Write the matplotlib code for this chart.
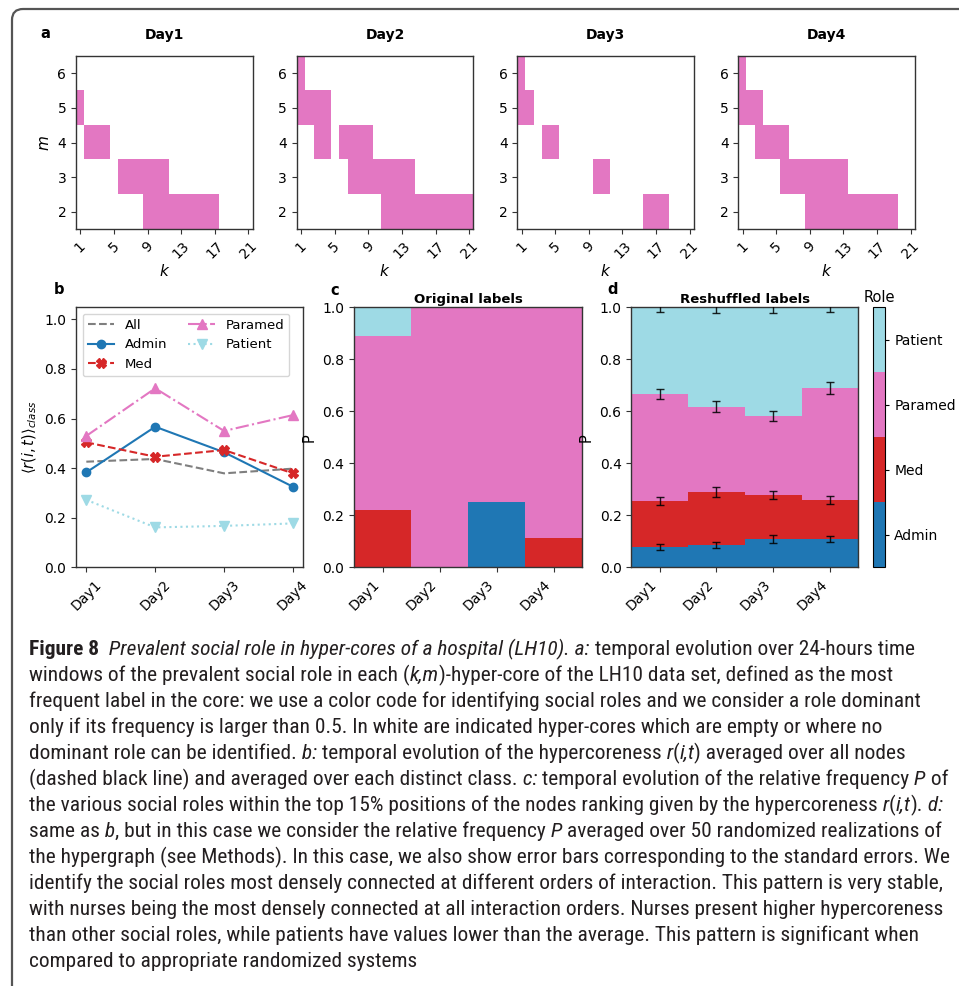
import matplotlib
matplotlib.use('Agg')
import matplotlib.pyplot as plt
import numpy as np
from matplotlib import font_manager as fm
from matplotlib.colors import ListedColormap, BoundaryNorm
from matplotlib.cm import ScalarMappable
from matplotlib.ticker import NullLocator
from matplotlib.path import Path
from matplotlib.patches import PathPatch

W, H = 959, 986

# roles and colours
roles = ['Admin', 'Med', 'Paramed', 'Patient']
role_colors = ['#1f77b4', '#d62728', '#e377c2', '#9edae5']
role_codes = {'A': 0, 'M': 1, 'P': 2, 'T': 3}
days = ['Day1', 'Day2', 'Day3', 'Day4']

# panel a: dominant role in each (k, m) hyper-core
# rows are m = 6, 5, 4, 3, 2 ; columns k = 1..21 ; '.' = no dominant role, 'P' = Paramed
m_ticks = [2, 3, 4, 5, 6]
k_ticks = [1, 5, 9, 13, 17, 21]
core_day1 = [".....................",
             "P....................",
             ".PPP.................",
             ".....PPPPPP..........",
             "........PPPPPPPPP...."]
core_day2 = ["P....................",
             "PPPP.................",
             "..PP.PPPP............",
             "......PPPPPPPP.......",
             "..........PPPPPPPPPPP"]
core_day3 = ["P....................",
             "PP...................",
             "...PP................",
             ".........PP..........",
             "...............PPP..."]
core_day4 = ["P....................",
             "PPP..................",
             "..PPPP...............",
             ".....PPPPPPPP........",
             "........PPPPPPPPPPP.."]

# panel b: mean hypercoreness per class
r_all = [0.426, 0.437, 0.379, 0.398]
r_admin = [0.383, 0.567, 0.464, 0.325]
r_med = [0.504, 0.446, 0.473, 0.379]
r_paramed = [0.530, 0.722, 0.550, 0.614]
r_patient = [0.272, 0.161, 0.167, 0.177]

# panel c: role frequency in top 15%, original labels
orig_admin = [0.0, 0.0, 0.25, 0.0]
orig_med = [0.222, 0.0, 0.0, 0.111]
orig_paramed = [0.667, 1.0, 0.75, 0.889]
orig_patient = [0.111, 0.0, 0.0, 0.0]

# panel d: reshuffled labels, mean and standard error
shuf_admin = [0.079, 0.086, 0.109, 0.109]
shuf_med = [0.176, 0.204, 0.169, 0.150]
shuf_paramed = [0.412, 0.327, 0.304, 0.431]
shuf_patient = [0.333, 0.383, 0.418, 0.310]
err_admin = [0.011, 0.010, 0.014, 0.012]
err_med = [0.016, 0.019, 0.016, 0.015]
err_paramed = [0.018, 0.021, 0.018, 0.022]
err_patient = [0.019, 0.021, 0.023, 0.019]

# caption, '#' toggles bold and '|' toggles italic
caption_lines = [
    "#Figure 8#  |Prevalent social role in hyper-cores of a hospital (LH10). a:| temporal evolution over 24-hours time",
    "windows of the prevalent social role in each (|k,m|)-hyper-core of the LH10 data set, defined as the most",
    "frequent label in the core: we use a color code for identifying social roles and we consider a role dominant",
    "only if its frequency is larger than 0.5. In white are indicated hyper-cores which are empty or where no",
    "dominant role can be identified. |b:| temporal evolution of the hypercoreness |r|(|i,t|) averaged over all nodes",
    "(dashed black line) and averaged over each distinct class. |c:| temporal evolution of the relative frequency |P| of",
    "the various social roles within the top 15% positions of the nodes ranking given by the hypercoreness |r|(|i,t|). |d:|",
    "same as |b|, but in this case we consider the relative frequency |P| averaged over 50 randomized realizations of",
    "the hypergraph (see Methods). In this case, we also show error bars corresponding to the standard errors. We",
    "identify the social roles most densely connected at different orders of interaction. This pattern is very stable,",
    "with nurses being the most densely connected at all interaction orders. Nurses present higher hypercoreness",
    "than other social roles, while patients have values lower than the average. This pattern is significant when",
    "compared to appropriate randomized systems",
]

TICK_FS = 10
spine_col = '#333333'

fig = plt.figure(figsize=(W / 100, H / 100), dpi=100)
fig.patch.set_facecolor('white')


def px_axes(x0, y0, x1, y1):
    return fig.add_axes([x0 / W, 1 - y1 / H, (x1 - x0) / W, (y1 - y0) / H])


def style_spines(ax):
    for s in ax.spines.values():
        s.set_color(spine_col)
        s.set_linewidth(1.0)
    ax.tick_params(labelsize=TICK_FS, length=3.5, color=spine_col)


cmap = ListedColormap(role_colors)

# ---- panel a ----
heat_lefts = [76, 296.7, 517.3, 738.3]
for i, (day, rows) in enumerate(zip(days, [core_day1, core_day2, core_day3, core_day4])):
    ax = px_axes(heat_lefts[i], 56, heat_lefts[i] + 176.7, 229.3)
    grid = np.array([[role_codes.get(c, np.nan) for c in row.ljust(21, '.')[:21]] for row in rows], float)
    ax.imshow(np.ma.masked_invalid(grid), cmap=cmap, vmin=-0.5, vmax=3.5,
              extent=(0.5, 21.5, 1.5, 6.5), aspect='auto', interpolation='nearest')
    ax.set_xticks(k_ticks)
    ax.set_yticks(m_ticks)
    ax.tick_params(axis='x', labelrotation=45)
    style_spines(ax)
    ax.set_title(day, fontweight='bold', fontsize=10, pad=12)
    ax.set_xlabel('$k$', fontsize=11, labelpad=1)
    if i == 0:
        ax.set_ylabel('$m$', fontsize=11)

# ---- panel b ----
axb = px_axes(76, 307, 303.3, 567.3)
axb.plot(days, r_all, '--', color='#7f7f7f', lw=1.5, label='All')
axb.plot(days, r_admin, '-o', color=role_colors[0], lw=1.5, ms=6, label='Admin')
axb.plot(days, r_med, '--X', color=role_colors[1], lw=1.5, ms=7, label='Med')
axb.plot(days, r_paramed, '-.^', color=role_colors[2], lw=1.5, ms=7, label='Paramed')
axb.plot(days, r_patient, ':v', color=role_colors[3], lw=1.5, ms=7, label='Patient')
axb.set_ylim(0, 1.05)
axb.set_yticks(np.arange(0, 1.01, 0.2))
axb.set_ylabel(r'$\langle r(i,t)\rangle_{class}$', fontsize=10.5)
axb.tick_params(axis='x', labelrotation=45)
style_spines(axb)
axb.legend(ncol=2, loc='upper left', fontsize=9.5, columnspacing=1.6)

# ---- panel c ----
x = np.arange(len(days))
axc = px_axes(354, 307.3, 582.3, 567.3)
bottom = np.zeros(len(days))
for vals, col in zip([orig_admin, orig_med, orig_paramed, orig_patient], role_colors):
    axc.bar(x, vals, bottom=bottom, width=1.0, color=col, linewidth=0)
    bottom += np.array(vals)
axc.set_xlim(-0.5, 3.5)
axc.set_ylim(0, 1)
axc.set_xticks(x)
axc.set_xticklabels(days, rotation=45, ha='right')
axc.set_ylabel('P', fontsize=10.5)
axc.set_title('Original labels', fontweight='bold', fontsize=9.5, pad=3)
style_spines(axc)

# ---- panel d ----
axd = px_axes(631.3, 307.3, 858.3, 567.3)
bottom = np.zeros(len(days))
for vals, errs, col in zip([shuf_admin, shuf_med, shuf_paramed, shuf_patient],
                           [err_admin, err_med, err_paramed, err_patient], role_colors):
    axd.bar(x, vals, bottom=bottom, width=1.0, color=col, linewidth=0)
    bottom += np.array(vals)
    axd.errorbar(x, bottom, yerr=errs, fmt='none', ecolor='black', elinewidth=1.0,
                 capsize=3, capthick=1.0, alpha=0.85, zorder=3)
axd.set_xlim(-0.5, 3.5)
axd.set_ylim(0, 1)
axd.set_xticks(x)
axd.set_xticklabels(days, rotation=45, ha='right')
axd.set_ylabel('P', fontsize=10.5)
axd.set_title('Reshuffled labels', fontweight='bold', fontsize=9.5, pad=3)
style_spines(axd)

cax = px_axes(872.5, 307.3, 885.3, 567.3)
sm = ScalarMappable(norm=BoundaryNorm([0, 1, 2, 3, 4], 4), cmap=cmap)
cb = fig.colorbar(sm, cax=cax, ticks=[0.5, 1.5, 2.5, 3.5])
cb.set_ticklabels(roles)
cb.outline.set_edgecolor('black')
cax.yaxis.set_minor_locator(NullLocator())
cax.tick_params(labelsize=TICK_FS, length=3)
cax.set_title('Role', fontsize=10.5, pad=4)

# panel letters
for letter, (px, py) in zip('abcd', [(45, 33), (59, 289), (335, 290), (613, 289)]):
    fig.text(px / W, 1 - py / H, letter, fontweight='bold', fontsize=10.5, ha='center', va='center')

# ---- caption ----
avail = {f.name for f in fm.fontManager.ttflist}
cap_font = 'DejaVu Sans'
for name in ['Liberation Sans Narrow', 'Roboto Condensed', 'Open Sans', 'Liberation Sans']:
    if name in avail:
        cap_font = name
        break

renderer = fig.canvas.get_renderer()


def parse_line(line):
    segs, buf, bold, ital = [], '', False, False
    for ch in line:
        if ch in '#|':
            if buf:
                segs.append([buf, bold, ital])
            buf = ''
            if ch == '#':
                bold = not bold
            else:
                ital = not ital
        else:
            buf += ch
    if buf:
        segs.append([buf, bold, ital])
    # trailing spaces are not measured, so move them to the next segment
    for j in range(len(segs) - 1):
        stripped = segs[j][0].rstrip(' ')
        n = len(segs[j][0]) - len(stripped)
        segs[j][0] = stripped
        segs[j + 1][0] = ' ' * n + segs[j + 1][0]
    return segs


probe = fig.text(0, 0, caption_lines[1].replace('|', ''), fontsize=10, family=cap_font)
probe_w = probe.get_window_extent(renderer).width
probe.remove()
cap_fs = 10 * 858 / probe_w

cap_x0 = 29
for i, line in enumerate(caption_lines):
    xpos = cap_x0
    ybase = 655 + 26 * i
    for seg, bold, ital in parse_line(line):
        t = fig.text(xpos / W, 1 - ybase / H, seg, fontsize=cap_fs, family=cap_font,
                     fontweight='bold' if bold else 'normal',
                     fontstyle='italic' if ital else 'normal',
                     color='#231f20', ha='left', va='baseline')
        xpos += t.get_window_extent(renderer).width

# page frame
verts = [(12, H + 5), (12, 20), (12, 9), (23, 9), (W + 5, 9)]
codes = [Path.MOVETO, Path.LINETO, Path.CURVE3, Path.CURVE3, Path.LINETO]
frame = Path([(vx / W, 1 - vy / H) for vx, vy in verts], codes)
fig.add_artist(PathPatch(frame, transform=fig.transFigure, fill=False,
                         edgecolor='#555555', lw=1.6))

fig.savefig('out.png', dpi=100)
